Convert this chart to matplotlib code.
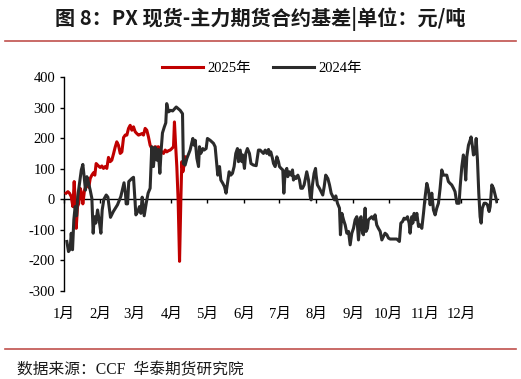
import matplotlib
matplotlib.use('Agg')
import matplotlib.pyplot as plt
from matplotlib.lines import Line2D

plt.rcParams['font.family'] = ['Liberation Serif', 'Noto Sans CJK SC']
plt.rcParams['axes.unicode_minus'] = False

# day of year (0 = 1 Jan) and basis values, yuan/ton
day_2025 = [2.2, 3.7, 5, 6.5, 7.9, 9, 9.8, 10.7, 11.8, 12.9, 14, 15.2, 16.3, 17.7,
            18.8, 20.2, 21.3, 22.5, 23.9, 25.3, 26.4, 27.5, 29.5, 30.9, 32.3, 33.7,
            35.1, 36.5, 37.9, 39.3, 40.7, 42.1, 43.5, 44.9, 46.3, 47.8, 49.2, 50.6,
            52, 53.4, 54.8, 56.2, 57.6, 59, 60.4, 61.8, 63.2, 64.6, 66, 67.4, 68.8,
            70.2, 71.6, 73, 74.4, 75.8, 77.2, 78.7, 80, 81.5, 82.9, 84.3, 85.7, 87,
            88.5, 89.9, 91.3, 92.7, 93.5, 94.4, 95.5, 96.6, 97.8, 98.9, 99.7, 100.6,
            101.4, 102.5]
basis_2025 = [20, 25, 20, 9, -24, 58, -2, -95, -24, -13, 36, 20, -15, 30,
              43, 47, 39, 68, 79, 87, 79, 117, 109, 104, 109, 101,
              107, 101, 137, 123, 128, 148, 170, 188, 177, 150, 155, 202,
              210, 210, 232, 242, 226, 237, 221, 215, 210, 212, 215, 210, 232,
              226, 204, 177, 166, 168, 172, 170, 172, 161, 155, 150, 161, 155,
              159, 161, 166, 172, 253, 183, 107, -2, -203, -2, 123, 90,
              107, 139]

day_2024 = [2.8, 4.2, 5.6, 6.5, 7.6, 8.7, 9.8, 11, 12, 13.5, 15, 16.3, 17.4, 18.5,
            19.7, 20.8, 22.5, 23.9, 25, 26, 27.2, 28.7, 30, 31.5, 32.6, 34, 36, 37.4,
            39.6, 42, 45.5, 48.3, 51, 52.2, 52.8, 54, 55, 57.6, 59, 61, 62.6, 64,
            65.2, 66.3, 68, 69.7, 71.3, 73, 74.4, 75.8, 77.2, 78.7, 79.8, 81.2, 82.3,
            83.4, 85, 86.2, 87, 88.5, 90.4, 92, 95, 98.3, 100.3, 101, 102.5, 104,
            106.7, 109, 110.1, 111, 112.4, 113.8, 114.6, 115.7, 117.4, 118.5, 120.2,
            121.3, 123.6, 126.4, 127.8, 129.2, 130, 131.5, 132.6, 134.3, 135.7, 137,
            138.2, 139.6, 141, 142.4, 143.8, 145.2, 146.6, 147.5, 148.9, 150.3, 151,
            152.5, 153.6, 155, 156.7, 158, 160, 162.4, 164.3,
            165.7, 168.5, 170, 171.3, 172.8, 173.6, 174.7, 176.1, 177, 178.4, 179.8,
            181.2, 182, 183.4, 184.8, 185.7, 186.8, 188.2, 189, 190.4, 191.9, 193,
            193.8, 195, 196, 197.5, 198.9, 200, 201.4, 202.8, 204.2, 205, 206.5,
            207.9, 208.7, 209.8, 211.2, 212.4, 212.9, 214, 215.7, 217.1, 218.5,
            219.7, 221, 222.8, 224.2, 225.6, 227, 228.4, 229.5, 230.9, 232.6, 233.4,
            234.6, 236, 237.4, 238.8, 240.2, 241.6, 243, 244.4, 245.8, 247.2, 248.6,
            250, 250.8, 252, 252.8, 254.2, 255, 256.2, 257, 258.4, 259.8, 261.2,
            262.6, 264, 265.4, 266.9, 268.3, 269.7, 271, 272.5, 273.9, 275.3, 278,
            280.9, 283.1, 284.3, 285.7, 287, 288.5, 289.9, 291.3, 292.1, 293.5,
            294.4, 295.5, 296.6, 297.8, 299.2, 300.6, 302, 303.4, 304.8, 306.2,
            307.6, 309, 310.4, 311.8, 313.2, 314.6, 316, 317.4, 318.8, 320.2, 321.6,
            323, 324.4, 325.8, 327.2, 328.7, 330, 331.5, 333.4, 334.3, 335.7, 337,
            337.9, 339, 339.9, 341.3, 342.7, 343.5, 344.7, 345.5, 346.9, 347.8,
            348.9, 350, 351.1, 352, 353, 354.5, 355.9, 357.3, 358.7, 359.6, 361,
            362.4, 363.8, 365.2]
basis_2024 = [-138, -171, -163, -111, -165, -67, -24, -54, 9, 52, 96, 114, 74, 30,
              74, 58, 30, 3, -111, -57, -78, -35, -67, -111, -35, 0, 14, 7,
              -59, -40, -18, 9, 54, 20, -15, -15, 58, 68, 72, -51, -40, -24,
              -46, 7, -54, -13, 20, 36, 172, 107, 170, 128, 163, 85, 161,
              217, 237, 250, 313, 286, 291, 289, 302, 291, 280, 117, 112, 134,
              161, 199, 177, 193, 134, 107, 172, 150, 166, 161, 166,
              199, 193, 183, 172, 112, 79, 107, 63, 52, 41, 20,
              52, 90, 79, 85, 107, 150, 166, 123, 161, 123, 145,
              101, 150, 166, 150, 117, 112, 110, 161,
              161, 150, 161, 150, 163, 145, 155, 134, 117, 107, 139,
              123, 107, 101, 96, 20, 90, 101, 74, 90, 79, 96,
              63, 74, 68, 79, 63, 36, 36, 47, 74, 90, 63,
              9, -2, 47, 85, 101, 79, 47, 36, 25, 14,
              41, 79, 68, 47, 20, 9, -2, 11, -13, -29, -116,
              -46, -67, -84, -111, -105, -149, -111, -95, -67, -57, -133,
              -62, -57, -111, -116, -29, -105, -95, -67, -62, -57, -65,
              -51, -84, -95, -105, -133, -122, -111, -116, -127, -130, -130,
              -130, -138, -78, -73, -62, -65, -57, -78, -111, -57,
              -78, -46, -67, -46, -89, -84, -95, -46, 9, 52,
              30, -18, 20, -35, -51, -29, -13, 36, 96, 79, 79,
              79, 58, 52, 47, 36, 25, -13, -13, 41, 107, 145,
              128, 63, 139, 177, 193, 204, 172, 145, 150, 199,
              128, 20, -57, -78, -29, -13, -13, -18, -40, -24, 47,
              36, 14, -8]

month_start = [0, 31, 60, 91, 121, 152, 182, 213, 244, 274, 305, 335]
month_labels = ['1月', '2月', '3月', '4月', '5月', '6月', '7月', '8月', '9月', '10月', '11月', '12月']
y_ticks = [-300, -200, -100, 0, 100, 200, 300, 400]

RED = '#c00000'
DARK = '#2b2b2b'

fig = plt.figure(figsize=(5.21, 3.79), dpi=100)
ax = fig.add_axes([0.1219, 0.2322, 0.8335, 0.5646])

ax.plot(day_2025, basis_2025, color=RED, lw=2.2, label='2025年', zorder=3)
ax.plot(day_2024, basis_2024, color=DARK, lw=2.2, label='2024年', zorder=4)

ax.set_xlim(0, 366)
ax.set_ylim(-300, 400)
ax.set_yticks(y_ticks)
ax.set_yticklabels([str(v) for v in y_ticks])

for s in ['top', 'right']:
    ax.spines[s].set_visible(False)
ax.spines['bottom'].set_position(('data', 0))
ax.spines['bottom'].set_linewidth(1.0)
ax.spines['left'].set_linewidth(1.0)
ax.set_xticks(month_start)
ax.tick_params(axis='x', direction='out', length=3, width=1, labelbottom=False)
ax.tick_params(axis='y', direction='out', length=3, width=1, labelsize=10.5, pad=3)

sec = ax.secondary_xaxis('bottom')
sec.set_xticks(month_start)
sec.set_xticklabels(month_labels, fontsize=10.5)
sec.tick_params(length=0, pad=12)
sec.spines['bottom'].set_visible(False)

ax.legend(loc='center', bbox_to_anchor=(0.503, 0.82), bbox_transform=fig.transFigure,
          ncol=2, frameon=False, fontsize=10.5, handlelength=2.8, columnspacing=1.5,
          handletextpad=0.3)

fig.text(0.5, 0.951, '图 8：PX 现货-主力期货合约基差|单位：元/吨', ha='center', va='center',
         fontsize=14.5, fontweight='bold', family=['Noto Sans CJK SC'], color='#1a1a1a')
fig.add_artist(Line2D([0.01, 0.99], [0.892, 0.892], transform=fig.transFigure,
                      color='#c0504d', lw=1.2))
fig.add_artist(Line2D([0.01, 0.99], [0.079, 0.079], transform=fig.transFigure,
                      color='#c0504d', lw=1.2))
fig.text(0.033, 0.024, '数据来源：CCF  华泰期货研究院', ha='left', va='center',
         fontsize=11.3, color='#1a1a1a')

fig.savefig('out.png', dpi=100)
